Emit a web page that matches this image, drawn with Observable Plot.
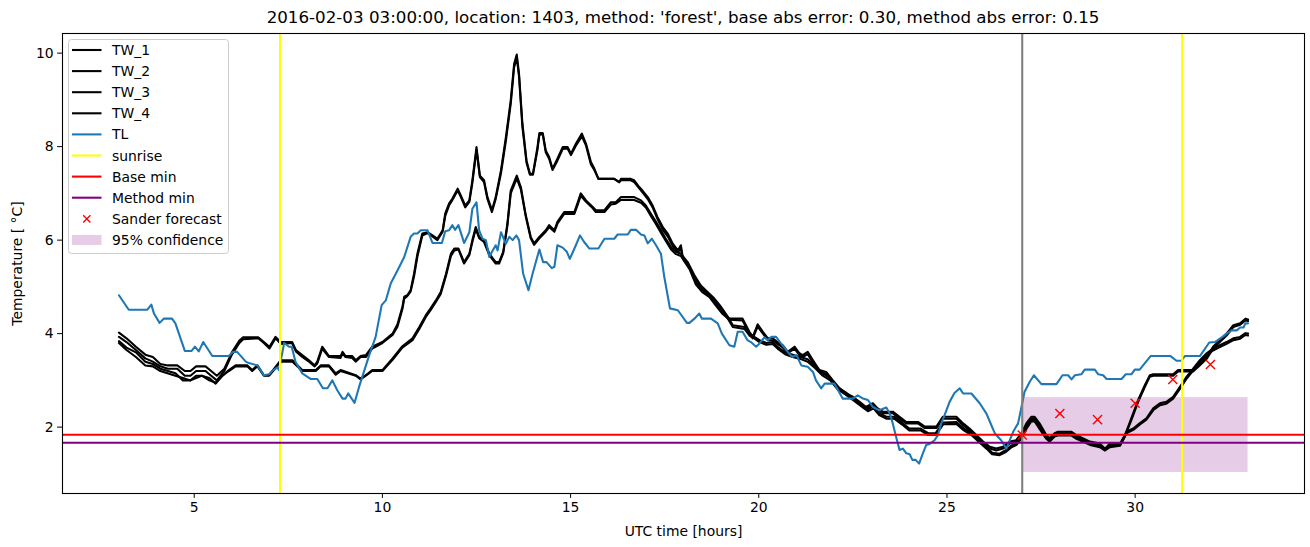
<!DOCTYPE html>
<html>
<head>
<meta charset="utf-8">
<script src="https://cdn.jsdelivr.net/npm/d3@7"></script>
<script src="https://cdn.jsdelivr.net/npm/@observablehq/plot@0.6"></script>
<style>
  html, body { margin: 0; padding: 0; background: white; }
  #chart svg { display: block; }
</style>
</head>
<body>
<div id="chart"></div>
<script>
const titleText = "2016-02-03 03:00:00, location: 1403, method: 'forest', base abs error: 0.30, method abs error: 0.15";
const xTicks = [5, 10, 15, 20, 25, 30];
const yTicks = [2, 4, 6, 8, 10];

// Group A times (TW_1, TW_2)
const tA = [
 3.0, 3.2, 3.45, 3.7, 3.9, 4.1, 4.3, 4.55, 4.75, 4.9,
 5.05, 5.3, 5.45, 5.6, 5.8, 6.0, 6.2, 6.3, 6.7, 6.85,
 7.0, 7.16, 7.3, 7.6, 7.7, 7.87, 8.05, 8.2, 8.27, 8.4,
 8.58, 8.89, 8.94, 9.02, 9.2, 9.29, 9.42, 9.56, 9.73, 10.0,
 10.27, 10.4, 10.53, 10.58, 10.66, 10.75, 10.84, 10.93, 11.06, 11.2,
 11.33, 11.46, 11.6, 11.67, 11.77, 11.86, 12.0, 12.08, 12.2, 12.31,
 12.39, 12.5, 12.59, 12.7, 12.79, 12.91, 13.01, 13.15, 13.28, 13.41,
 13.5, 13.57, 13.63, 13.72, 13.83, 13.92, 14.0, 14.12, 14.17, 14.26,
 14.34, 14.43, 14.52, 14.65, 14.79, 14.92, 15.01, 15.14, 15.3, 15.41,
 15.54, 15.63, 15.74, 16.16, 16.29, 16.34, 16.6, 16.69, 16.83, 16.91,
 17.05, 17.18, 17.31, 17.45, 17.58, 17.71, 17.85, 17.93, 17.98, 18.16,
 18.33, 18.51, 18.69, 18.86, 19.04, 19.22, 19.57, 19.75, 19.84, 19.97,
 20.11, 20.24, 20.37, 20.5, 20.64, 20.77, 20.95, 21.08, 21.17, 21.3,
 21.44, 21.61, 21.79, 21.97, 22.15, 22.32, 22.5, 22.68, 22.85, 23.03,
 23.16, 23.3, 23.56, 23.74, 23.92, 24.23, 24.41, 24.72, 24.89, 25.25,
 25.43, 25.6, 25.78, 25.96, 26.14, 26.31, 26.49, 26.67, 26.84, 26.98,
 27.11, 27.24, 27.33, 27.46, 27.64, 27.73, 27.86, 27.95, 28.31, 28.44,
 28.8, 29.06, 29.2, 29.33, 29.6, 29.73, 29.9, 30.08, 30.26, 30.39,
 30.48, 31.01, 31.14, 31.54, 31.68, 31.9, 32.07, 32.25, 32.43, 32.61,
 32.79, 32.93, 33.0
];
const TW_1 = [
 4.02, 3.9, 3.72, 3.55, 3.5, 3.35, 3.32, 3.32, 3.2, 3.2,
 3.3, 3.3, 3.2, 3.1, 3.25, 3.6, 3.85, 3.92, 3.92, 3.82,
 3.72, 3.93, 3.82, 3.82, 3.65, 3.54, 3.43, 3.32, 3.4, 3.72,
 3.52, 3.52, 3.61, 3.52, 3.52, 3.43, 3.52, 3.54, 3.72, 3.82,
 4.0, 4.2, 4.57, 4.79, 4.82, 4.93, 5.28, 5.71, 6.14, 6.17,
 6.1, 6.03, 6.21, 6.57, 6.78, 6.89, 7.1, 6.96, 6.74, 6.85,
 7.28, 7.99, 7.38, 7.28, 6.92, 6.64, 6.92, 7.49, 8.2, 8.99,
 9.77, 9.97, 9.56, 8.49, 7.7, 7.42, 7.42, 7.99, 8.29, 8.29,
 7.92, 7.78, 7.53, 7.74, 7.99, 7.99, 7.85, 8.06, 8.28, 8.06,
 7.67, 7.53, 7.31, 7.31, 7.24, 7.31, 7.31, 7.28, 7.13, 7.06,
 6.92, 6.74, 6.49, 6.28, 6.14, 5.93, 5.78, 5.89, 5.64, 5.43,
 5.1, 4.93, 4.82, 4.64, 4.46, 4.32, 4.32, 4.04, 3.93, 4.2,
 4.04, 3.9, 3.9, 3.82, 3.75, 3.61, 3.72, 3.58, 3.54, 3.61,
 3.43, 3.22, 3.18, 3.0, 2.83, 2.72, 2.65, 2.54, 2.43, 2.51,
 2.4, 2.33, 2.33, 2.22, 2.11, 2.11, 2.01, 2.01, 2.22, 2.22,
 2.08, 1.97, 1.83, 1.69, 1.58, 1.54, 1.58, 1.69, 1.72, 1.87,
 2.08, 2.22, 2.22, 2.08, 1.83, 1.76, 1.87, 1.9, 1.9, 1.83,
 1.69, 1.65, 1.54, 1.65, 1.65, 1.83, 2.19, 2.58, 2.9, 3.11,
 3.13, 3.13, 3.22, 3.22, 3.32, 3.5, 3.72, 3.86, 4.0, 4.18,
 4.22, 4.32, 4.3
];
const TW_2 = [
 3.93, 3.82, 3.65, 3.47, 3.4, 3.3, 3.25, 3.25, 3.1, 3.1,
 3.2, 3.2, 3.1, 3.0, 3.2, 3.55, 3.8, 3.88, 3.9, 3.8,
 3.68, 3.9, 3.78, 3.8, 3.62, 3.5, 3.4, 3.3, 3.36, 3.68,
 3.5, 3.48, 3.58, 3.5, 3.48, 3.4, 3.5, 3.5, 3.68, 3.8,
 3.97, 4.15, 4.52, 4.75, 4.8, 4.9, 5.22, 5.65, 6.1, 6.15,
 6.08, 6.0, 6.18, 6.52, 6.74, 6.86, 7.06, 6.93, 6.7, 6.82,
 7.22, 7.93, 7.35, 7.24, 6.88, 6.6, 6.88, 7.43, 8.12, 8.92,
 9.7, 9.9, 9.5, 8.42, 7.65, 7.4, 7.4, 7.93, 8.25, 8.27,
 7.88, 7.74, 7.5, 7.7, 7.95, 7.96, 7.82, 8.02, 8.22, 8.02,
 7.62, 7.5, 7.31, 7.31, 7.24, 7.28, 7.28, 7.24, 7.1, 7.02,
 6.88, 6.7, 6.45, 6.22, 6.08, 5.88, 5.74, 5.82, 5.6, 5.38,
 5.05, 4.88, 4.78, 4.6, 4.42, 4.3, 4.28, 4.0, 3.9, 4.15,
 4.0, 3.86, 3.86, 3.78, 3.7, 3.58, 3.68, 3.54, 3.5, 3.56,
 3.38, 3.18, 3.14, 2.96, 2.8, 2.7, 2.62, 2.5, 2.4, 2.47,
 2.36, 2.3, 2.3, 2.18, 2.08, 2.08, 1.98, 1.98, 2.18, 2.18,
 2.04, 1.93, 1.8, 1.65, 1.54, 1.5, 1.54, 1.65, 1.69, 1.84,
 2.05, 2.19, 2.19, 2.05, 1.8, 1.73, 1.84, 1.87, 1.87, 1.8,
 1.66, 1.62, 1.51, 1.62, 1.62, 1.8, 2.15, 2.54, 2.86, 3.08,
 3.1, 3.1, 3.19, 3.19, 3.29, 3.46, 3.68, 3.82, 3.96, 4.14,
 4.19, 4.28, 4.27
];

// Group B times (TW_3, TW_4)
const tB = [
 3.0, 3.2, 3.45, 3.7, 3.9, 4.1, 4.5, 4.7, 4.9, 5.05,
 5.2, 5.4, 5.57, 5.75, 5.92, 6.1, 6.41, 6.54, 6.68, 6.85,
 6.99, 7.16, 7.3, 7.61, 7.87, 8.23, 8.36, 8.58, 8.76, 8.89,
 9.29, 9.42, 9.56, 9.73, 10.0, 10.27, 10.53, 10.8, 10.98, 11.15,
 11.28, 11.42, 11.55, 11.69, 11.82, 11.91, 12.02, 12.17, 12.31, 12.39,
 12.48, 12.57, 12.7, 12.84, 13.01, 13.1, 13.21, 13.32, 13.41, 13.57,
 13.68, 13.81, 13.94, 14.03, 14.17, 14.34, 14.43, 14.57, 14.65, 14.83,
 15.1, 15.19, 15.27, 15.41, 15.59, 15.67, 15.9, 16.07, 16.2, 16.34,
 16.69, 16.87, 17.0, 17.13, 17.27, 17.4, 17.53, 17.67, 17.8, 17.93,
 18.11, 18.29, 18.46, 18.64, 18.82, 19.0, 19.18, 19.31, 19.62, 19.75,
 19.88, 20.02, 20.2, 20.37, 20.5, 20.7, 20.9, 21.1, 21.3, 21.5,
 21.7, 21.9, 22.1, 22.3, 22.5, 22.7, 22.9, 23.05, 23.2, 23.4,
 23.6, 23.8, 24.0, 24.3, 24.5, 24.7, 24.9, 25.25, 25.45, 25.65,
 25.85, 26.05, 26.2, 26.4, 26.55, 26.7, 26.85, 26.98, 27.11, 27.24,
 27.33, 27.46, 27.64, 27.73, 27.86, 27.95, 28.31, 28.44, 28.8, 29.06,
 29.2, 29.33, 29.6, 29.77, 29.95, 30.12, 30.3, 30.48, 30.66, 30.83,
 31.01, 31.19, 31.37, 31.54, 31.72, 31.9, 32.07, 32.25, 32.43, 32.61,
 32.79, 32.93, 33.0
];
const TW_3 = [
 3.84, 3.7, 3.6, 3.4, 3.35, 3.25, 3.15, 3.0, 3.0, 3.1,
 3.1, 3.05, 2.93, 3.1, 3.22, 3.32, 3.32, 3.22, 3.32, 3.11,
 3.11, 3.29, 3.43, 3.43, 3.22, 3.22, 3.32, 3.32, 3.15, 3.22,
 3.11, 3.04, 3.11, 3.22, 3.22, 3.47, 3.73, 3.9, 4.14, 4.39,
 4.54, 4.71, 4.89, 5.28, 5.71, 5.82, 5.82, 5.53, 5.71, 6.0,
 6.28, 6.07, 6.0, 5.71, 5.53, 5.53, 5.75, 6.35, 7.06, 7.38,
 7.13, 6.53, 6.07, 5.93, 6.07, 6.21, 6.32, 6.21, 6.39, 6.6,
 6.6, 6.81, 7.0, 6.85, 6.71, 6.64, 6.64, 6.81, 6.81, 6.92,
 6.92, 6.85, 6.74, 6.57, 6.39, 6.21, 6.03, 5.85, 5.75, 5.71,
 5.53, 5.25, 5.03, 4.89, 4.75, 4.57, 4.36, 4.18, 4.14, 4.0,
 3.93, 3.86, 3.8, 3.82, 3.72, 3.6, 3.55, 3.5, 3.45, 3.3,
 3.15, 3.05, 2.85, 2.75, 2.62, 2.5, 2.38, 2.45, 2.3, 2.22,
 2.22, 2.1, 1.97, 1.97, 1.87, 1.87, 2.1, 2.11, 1.97, 1.87,
 1.72, 1.58, 1.45, 1.43, 1.5, 1.6, 1.65, 1.8, 2.0, 2.15,
 2.15, 2.0, 1.78, 1.72, 1.83, 1.85, 1.85, 1.78, 1.65, 1.6,
 1.52, 1.6, 1.62, 1.9, 1.97, 2.08, 2.19, 2.4, 2.51, 2.54,
 2.65, 2.86, 3.08, 3.25, 3.43, 3.58, 3.68, 3.75, 3.82, 3.9,
 3.93, 4.01, 4.0
];
const TW_4 = [
 3.8, 3.65, 3.5, 3.32, 3.3, 3.2, 3.1, 3.05, 3.0, 3.05,
 3.1, 3.0, 2.95, 3.1, 3.2, 3.3, 3.3, 3.2, 3.3, 3.1,
 3.1, 3.26, 3.4, 3.4, 3.2, 3.2, 3.3, 3.3, 3.12, 3.2,
 3.1, 3.02, 3.1, 3.2, 3.2, 3.44, 3.7, 3.86, 4.1, 4.35,
 4.5, 4.68, 4.85, 5.24, 5.66, 5.78, 5.8, 5.5, 5.68, 5.96,
 6.24, 6.04, 5.96, 5.68, 5.5, 5.5, 5.72, 6.3, 7.0, 7.32,
 7.08, 6.5, 6.04, 5.9, 6.04, 6.18, 6.28, 6.18, 6.35, 6.56,
 6.56, 6.76, 6.95, 6.82, 6.68, 6.6, 6.6, 6.76, 6.78, 6.86,
 6.86, 6.8, 6.7, 6.52, 6.34, 6.16, 5.98, 5.8, 5.7, 5.66,
 5.48, 5.2, 4.98, 4.85, 4.7, 4.52, 4.32, 4.14, 4.1, 3.96,
 3.9, 3.82, 3.76, 3.78, 3.68, 3.56, 3.5, 3.46, 3.4, 3.26,
 3.1, 3.0, 2.8, 2.7, 2.58, 2.46, 2.34, 2.4, 2.26, 2.18,
 2.18, 2.06, 1.93, 1.93, 1.83, 1.83, 2.06, 2.07, 1.93, 1.83,
 1.68, 1.54, 1.42, 1.4, 1.46, 1.56, 1.62, 1.76, 1.96, 2.12,
 2.12, 1.96, 1.75, 1.69, 1.8, 1.82, 1.82, 1.75, 1.62, 1.57,
 1.5, 1.57, 1.6, 1.87, 1.94, 2.05, 2.16, 2.36, 2.47, 2.5,
 2.61, 2.82, 3.04, 3.21, 3.39, 3.54, 3.64, 3.71, 3.78, 3.86,
 3.89, 3.97, 3.96
];

// TL series
const tTL = [
 3.0, 3.26, 3.75, 3.86, 3.93, 4.08, 4.19, 4.41, 4.5, 4.75,
 4.93, 5.02, 5.12, 5.24, 5.48, 5.92, 6.03, 6.14, 6.37, 6.45,
 6.68, 6.85, 6.99, 7.07, 7.21, 7.25, 7.39, 7.52, 7.59, 7.69,
 7.87, 8.09, 8.27, 8.42, 8.54, 8.67, 8.8, 8.94, 9.02, 9.09,
 9.26, 9.38, 9.65, 9.82, 9.98, 10.09, 10.22, 10.4, 10.58, 10.75,
 10.84, 10.93, 11.02, 11.2, 11.33, 11.58, 11.67, 11.77, 11.86, 11.93,
 12.02, 12.17, 12.31, 12.39, 12.5, 12.57, 12.66, 12.75, 12.84, 12.93,
 13.01, 13.06, 13.15, 13.24, 13.28, 13.37, 13.46, 13.56, 13.63, 13.74,
 13.88, 13.99, 14.17, 14.27, 14.36, 14.5, 14.57, 14.65, 14.79, 14.9,
 14.98, 15.14, 15.25, 15.36, 15.5, 15.74, 15.9, 16.16, 16.25, 16.52,
 16.6, 16.74, 16.87, 16.96, 17.05, 17.16, 17.27, 17.4, 17.49, 17.64,
 17.85, 18.09, 18.16, 18.29, 18.42, 18.49, 18.73, 18.91, 19.02, 19.22,
 19.35, 19.44, 19.57, 19.7, 19.79, 19.93, 20.02, 20.15, 20.24, 20.33,
 20.46, 20.59, 20.77, 20.89, 21.0, 21.13, 21.3, 21.44, 21.52, 21.66,
 21.75, 22.01, 22.23, 22.5, 22.63, 22.77, 22.9, 23.03, 23.2, 23.39,
 23.48, 23.56, 23.65, 23.74, 23.83, 23.92, 24.01, 24.08, 24.17, 24.26,
 24.36, 24.45, 24.54, 24.67, 24.76, 24.85, 24.94, 25.07, 25.2, 25.34,
 25.43, 25.65, 25.87, 26.05, 26.18, 26.27, 26.36, 26.44, 26.58, 26.67,
 26.76, 26.89, 27.0, 27.06, 27.2, 27.31, 27.51, 27.91, 28.07, 28.22,
 28.31, 28.4, 28.57, 28.66, 28.93, 29.02, 29.15, 29.24, 29.64, 29.75,
 29.9, 29.99, 30.12, 30.41, 30.94, 31.1, 31.23, 31.32, 31.72, 31.97,
 32.12, 32.32, 32.43, 32.56, 32.7, 32.79, 32.88, 32.93, 33.0
];
const TL = [
 4.82, 4.51, 4.51, 4.62, 4.43, 4.23, 4.32, 4.32, 4.22, 3.63,
 3.63, 3.72, 3.62, 3.82, 3.52, 3.52, 3.61, 3.61, 3.4, 3.37,
 3.32, 3.11, 3.13, 3.2, 3.28, 3.22, 3.8, 3.72, 3.72, 3.4,
 3.15, 3.03, 3.03, 2.83, 2.83, 3.0, 2.79, 2.61, 2.61, 2.72,
 2.52, 2.86, 3.54, 3.93, 4.61, 4.71, 5.07, 5.35, 5.64, 6.07,
 6.14, 6.14, 6.21, 6.21, 5.94, 5.94, 6.19, 6.21, 6.32, 6.22,
 6.32, 5.94, 6.17, 6.67, 6.81, 6.21, 6.03, 6.0, 5.64, 5.78,
 5.89, 5.78, 6.17, 6.0, 5.92, 6.07, 6.0, 6.1, 6.0, 5.28,
 4.93, 5.28, 5.8, 5.53, 5.53, 5.4, 5.43, 5.89, 5.84, 5.75,
 5.6, 5.89, 6.1, 5.96, 5.82, 5.82, 6.03, 6.03, 6.12, 6.12,
 6.22, 6.22, 6.12, 6.1, 5.93, 6.03, 5.89, 5.71, 5.21, 4.54,
 4.5, 4.23, 4.23, 4.32, 4.43, 4.32, 4.32, 4.22, 4.0, 3.75,
 3.72, 4.04, 4.04, 3.86, 3.82, 3.72, 3.79, 3.92, 3.86, 3.93,
 3.93, 3.79, 3.61, 3.5, 3.54, 3.32, 3.29, 3.18, 3.0, 2.83,
 2.93, 2.93, 2.61, 2.61, 2.68, 2.61, 2.58, 2.43, 2.36, 2.42,
 2.29, 2.08, 1.79, 1.51, 1.54, 1.44, 1.42, 1.3, 1.3, 1.22,
 1.44, 1.62, 1.64, 1.72, 1.83, 2.08, 2.26, 2.54, 2.73, 2.83,
 2.72, 2.72, 2.51, 2.29, 2.04, 1.87, 1.79, 1.72, 1.54, 1.72,
 1.9, 2.08, 2.51, 2.75, 2.97, 3.11, 2.92, 2.92, 3.11, 3.11,
 3.02, 3.11, 3.13, 3.23, 3.23, 3.13, 3.11, 3.03, 3.03, 3.13,
 3.13, 3.23, 3.23, 3.52, 3.52, 3.42, 3.42, 3.52, 3.52, 3.81,
 3.82, 3.93, 4.0, 4.07, 4.07, 4.13, 4.13, 4.22, 4.22
];

// Reference lines and forecast
const sunrise = [7.28, 31.25];
const forecastStart = [27.0];
const baseMin = [1.835];
const methodMin = [1.665];
const forecastHours = [27, 28, 29, 30, 31, 32];
const sanderForecast = [1.83, 2.29, 2.16, 2.51, 3.02, 3.34];
const confX = [27.0, 33.0];
const confY = [1.03, 2.63];

const legendLabels = ["TW_1", "TW_2", "TW_3", "TW_4", "TL", "sunrise", "Base min", "Method min", "Sander forecast", "95% confidence"];
const legendColors = ["black", "black", "black", "black", "#1f77b4", "yellow", "red", "purple", "red", "purple"];
const legendKinds = ["line", "line", "line", "line", "line", "line", "line", "line", "x", "rect"];

const rows = (t, v, s) => t.map((x, i) => ({t: x, v: v[i], s}));
const tw1 = rows(tA, TW_1, "TW_1");
const tw2 = rows(tA, TW_2, "TW_2");
const tw3 = rows(tB, TW_3, "TW_3");
const tw4 = rows(tB, TW_4, "TW_4");
const tl = rows(tTL, TL, "TL");
const fc = rows(forecastHours, sanderForecast, "Sander forecast");
const band = [{x1: confX[0], x2: confX[1], y1: confY[0], y2: confY[1]}];

const LW = 2.08;
const chart = Plot.plot({
  width: 1310,
  height: 547,
  marginLeft: 62,
  marginRight: 6,
  marginTop: 33,
  marginBottom: 54,
  style: {fontFamily: "DejaVu Sans", fontSize: "13.9px", color: "black", background: "white", overflow: "visible"},
  x: {domain: [1.5, 34.5], ticks: xTicks, tickSize: 4.9, tickPadding: 4, label: "UTC time [hours]", labelAnchor: "center", labelOffset: 42, labelArrow: "none"},
  y: {domain: [0.58, 10.42], ticks: yTicks, tickSize: 4.9, tickPadding: 4, label: "Temperature [ °C]", labelAnchor: "center", labelOffset: 50, labelArrow: "none"},
  marks: [
    Plot.rect(band, {x1: "x1", x2: "x2", y1: "y1", y2: "y2", fill: "purple", fillOpacity: 0.2}),
    Plot.line(tw1, {x: "t", y: "v", stroke: "black", strokeWidth: LW}),
    Plot.line(tw2, {x: "t", y: "v", stroke: "black", strokeWidth: LW}),
    Plot.line(tw3, {x: "t", y: "v", stroke: "black", strokeWidth: LW}),
    Plot.line(tw4, {x: "t", y: "v", stroke: "black", strokeWidth: LW}),
    Plot.line(tl, {x: "t", y: "v", stroke: "#1f77b4", strokeWidth: LW}),
    Plot.ruleX(sunrise, {stroke: "yellow", strokeWidth: LW}),
    Plot.ruleX(forecastStart, {stroke: "gray", strokeWidth: LW}),
    Plot.ruleY(baseMin, {stroke: "red", strokeWidth: LW}),
    Plot.ruleY(methodMin, {stroke: "purple", strokeWidth: LW}),
    Plot.dot(fc, {x: "t", y: "v", symbol: "times", r: 4.2, stroke: "red", strokeWidth: 1.4}),
    Plot.frame({stroke: "black", strokeWidth: 1.1})
  ]
});

document.getElementById("chart").appendChild(chart);

const svg = d3.select(chart);
svg.append("text")
  .attr("x", 683).attr("y", 23)
  .attr("text-anchor", "middle")
  .attr("font-family", "DejaVu Sans")
  .attr("font-size", "16.7px")
  .attr("fill", "black")
  .text(titleText);

const lg = svg.append("g").attr("font-family", "DejaVu Sans").attr("font-size", "13.9px").attr("text-anchor", "start");
lg.append("rect")
  .attr("x", 68.5).attr("y", 39.5).attr("width", 160).attr("height", 214)
  .attr("rx", 3).attr("fill", "white").attr("fill-opacity", 0.8)
  .attr("stroke", "#cccccc").attr("stroke-width", 1);
legendLabels.forEach((label, i) => {
  const cy = 50 + i * 21.1;
  const kind = legendKinds[i];
  if (kind === "line") {
    lg.append("line").attr("x1", 72).attr("x2", 101.5).attr("y1", cy).attr("y2", cy)
      .attr("stroke", legendColors[i]).attr("stroke-width", LW);
  } else if (kind === "x") {
    const cx = 86.8, s = 3.6;
    lg.append("path").attr("d", `M${cx - s},${cy - s}L${cx + s},${cy + s}M${cx - s},${cy + s}L${cx + s},${cy - s}`)
      .attr("stroke", legendColors[i]).attr("stroke-width", 1.4).attr("fill", "none");
  } else {
    lg.append("rect").attr("x", 72).attr("y", cy - 5).attr("width", 29.5).attr("height", 10)
      .attr("fill", legendColors[i]).attr("fill-opacity", 0.2);
  }
  lg.append("text").attr("x", 112).attr("y", cy).attr("dy", "0.36em").attr("text-anchor", "start").attr("fill", "black").text(label);
});
</script>
</body>
</html>
